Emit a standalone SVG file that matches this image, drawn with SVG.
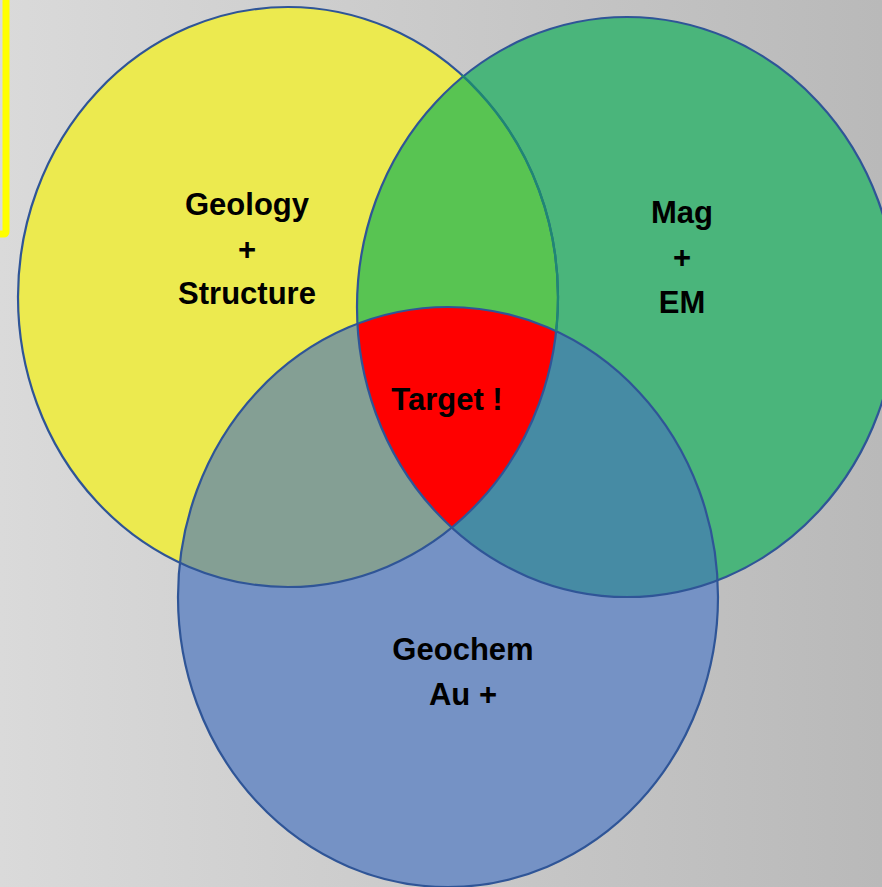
<svg xmlns="http://www.w3.org/2000/svg" width="882" height="887" viewBox="0 0 882 887">
<style>
.lbl{font-family:"Liberation Sans",Arial,sans-serif;font-weight:bold;font-size:31px;fill:#000;text-anchor:middle}
.ol{fill:none;stroke:#2F5597;stroke-width:2.2}
</style>
<defs>
<linearGradient id="bg" x1="0" y1="0" x2="1" y2="0">
<stop offset="0" stop-color="#DADADA"/>
<stop offset="1" stop-color="#B9B9B9"/>
</linearGradient>
<clipPath id="cY"><ellipse cx="288" cy="297" rx="270" ry="290"/></clipPath>
<clipPath id="cG"><ellipse cx="627" cy="307" rx="270" ry="290"/></clipPath>
<mask id="mGnotB">
<ellipse cx="627" cy="307" rx="272" ry="292" fill="#fff"/>
<ellipse cx="448" cy="597" rx="270" ry="290" fill="#000"/>
</mask>
</defs>
<rect x="0" y="0" width="882" height="887" fill="url(#bg)"/>
<rect x="-200" y="-20" width="206" height="254" rx="2" fill="none" stroke="#FFFF00" stroke-width="7"/>
<g id="geology">
<ellipse cx="288" cy="297" rx="270" ry="290" fill="#ECEA4F"/>
<text class="lbl" x="247" y="215">Geology</text>
<text class="lbl" x="247" y="260">+</text>
<text class="lbl" x="247" y="304">Structure</text>
</g>
<g id="magem">
<ellipse cx="627" cy="307" rx="270" ry="290" fill="#4AB57B"/>
<text class="lbl" x="682" y="223">Mag</text>
<text class="lbl" x="682" y="268">+</text>
<text class="lbl" x="682" y="313">EM</text>
</g>
<g id="geochem">
<ellipse cx="448" cy="597" rx="270" ry="290" fill="#7592C5"/>
<text class="lbl" x="463" y="660">Geochem</text>
<text class="lbl" x="463" y="705">Au +</text>
</g>
<g id="overlaps">
<ellipse cx="627" cy="307" rx="270" ry="290" fill="#58C452" clip-path="url(#cY)"/>
<ellipse cx="448" cy="597" rx="270" ry="290" fill="#849F94" clip-path="url(#cY)"/>
<ellipse cx="448" cy="597" rx="270" ry="290" fill="#468BA4" clip-path="url(#cG)"/>
</g>
<g id="target">
<g clip-path="url(#cY)">
<ellipse cx="448" cy="597" rx="270" ry="290" fill="#FF0000" clip-path="url(#cG)"/>
</g>
<text class="lbl" x="447" y="410">Target !</text>
</g>
<g id="connectors">
<ellipse class="ol" cx="288" cy="297" rx="270" ry="290"/>
<ellipse class="ol" cx="627" cy="307" rx="270" ry="290"/>
<ellipse class="ol" cx="448" cy="597" rx="270" ry="290"/>
<ellipse cx="288" cy="297" rx="270" ry="290" fill="none" stroke="#1E8873" stroke-width="2.2" mask="url(#mGnotB)"/>
</g>
</svg>
